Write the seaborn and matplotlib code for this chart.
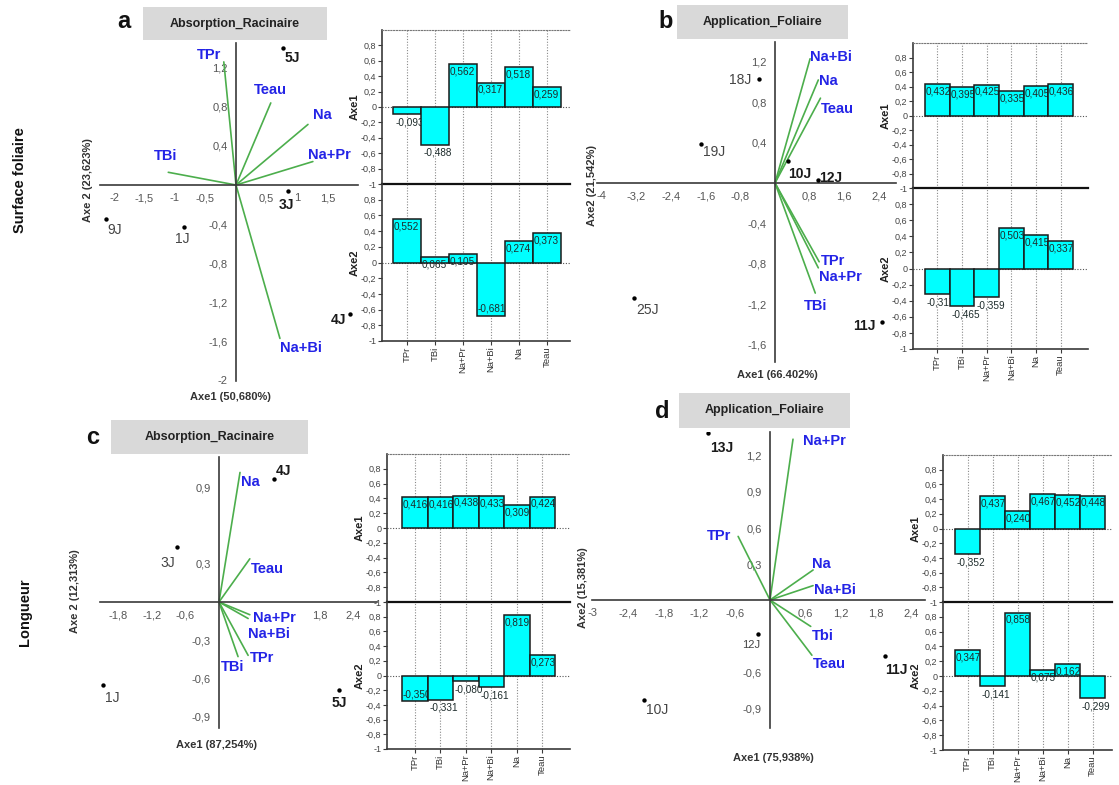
import matplotlib
matplotlib.use("Agg")
import matplotlib.pyplot as plt
from matplotlib.patches import Rectangle
import seaborn as sns

# ---------------------------------------------------------------- data
cats = ["TPr", "TBi", "Na+Pr", "Na+Bi", "Na", "Teau"]

# a : Absorption_Racinaire - Surface foliaire
a_days = ["5J", "3J", "9J", "1J", "4J"]
a_axe1 = [0.77, 0.85, -2.13, -0.85, 1.87]
a_axe2 = [1.40, -0.06, -0.35, -0.43, -1.32]
a_vars = ["TPr", "Teau", "Na", "Na+Pr", "TBi", "Na+Bi"]
a_load1 = [-0.20, 0.57, 1.18, 1.26, -1.11, 0.72]
a_load2 = [1.26, 0.84, 0.62, 0.24, 0.13, -1.57]
a_bar1 = [-0.093, -0.488, 0.562, 0.317, 0.518, 0.259]
a_bar2 = [0.552, 0.065, 0.105, -0.681, 0.274, 0.373]

# b : Application_Foliaire - Surface foliaire
b_days = ["18J", "19J", "10J", "12J", "25J", "11J"]
b_axe1 = [-0.37, -1.70, 0.30, 1.00, -3.26, 2.47]
b_axe2 = [1.03, 0.39, 0.22, 0.03, -1.14, -1.38]
b_vars = ["Na+Bi", "Na", "Teau", "TPr", "Na+Pr", "TBi"]
b_load1 = [0.81, 1.00, 1.05, 1.02, 1.00, 0.93]
b_load2 = [1.23, 1.02, 0.84, -0.78, -0.84, -1.09]
b_bar1 = [0.432, 0.395, 0.425, 0.335, 0.405, 0.436]
b_bar2 = [-0.317, -0.465, -0.359, 0.503, 0.415, 0.337]

# c : Absorption_Racinaire - Longueur
c_days = ["4J", "3J", "1J", "5J"]
c_axe1 = [0.98, -0.75, -2.07, 2.14]
c_axe2 = [0.97, 0.43, -0.65, -0.69]
c_vars = ["Na", "Teau", "Na+Pr", "Na+Bi", "TPr", "TBi"]
c_load1 = [0.375, 0.55, 0.55, 0.52, 0.52, 0.34]
c_load2 = [1.02, 0.34, -0.10, -0.13, -0.42, -0.43]
c_bar1 = [0.416, 0.416, 0.438, 0.433, 0.309, 0.424]
c_bar2 = [-0.350, -0.331, -0.080, -0.161, 0.819, 0.273]

# d : Application_Foliaire - Longueur
d_days = ["13J", "12J", "10J", "11J"]
d_axe1 = [-1.05, -0.20, -2.13, 1.95]
d_axe2 = [1.39, -0.28, -0.83, -0.47]
d_vars = ["Na+Pr", "TPr", "Na", "Na+Bi", "Tbi", "Teau"]
d_load1 = [0.39, -0.54, 0.73, 0.73, 0.69, 0.71]
d_load2 = [1.34, 0.53, 0.25, 0.12, -0.22, -0.46]
d_bar1 = [-0.352, 0.437, 0.240, 0.467, 0.452, 0.448]
d_bar2 = [0.347, -0.141, 0.858, 0.075, 0.162, -0.299]

# ---------------------------------------------------------------- style
sns.set_style("white")
plt.rcParams["font.family"] = ["Liberation Sans", "DejaVu Sans"]

GREEN = "#4cae4c"
BLUE = "#2323e6"
CYAN = "#00ffff"
AXIS = "#3a3a3a"

W, H = 1119, 785
fig = plt.figure(figsize=(W / 100, H / 100), dpi=100)


def frac_rect(l, t, r, b):
    return [l / W, 1 - b / H, (r - l) / W, (b - t) / H]


def comma(v):
    return f"{v:g}".replace(".", ",")


def biplot(origin, scale, xlim, ylim, xticks, yticks, blank_ticks,
           days, s1, s2, day_style, vars_, l1, l2, var_style):
    x0, y0 = origin
    sx, sy = scale
    ax = fig.add_axes(frac_rect(x0 + sx * xlim[0], y0 - sy * ylim[1],
                                x0 + sx * xlim[1], y0 - sy * ylim[0]))
    ax.set_facecolor("none")
    ax.set_xlim(xlim)
    ax.set_ylim(ylim)
    for sp in ("top", "right"):
        ax.spines[sp].set_visible(False)
    for sp in ("left", "bottom"):
        ax.spines[sp].set_position(("data", 0))
        ax.spines[sp].set_color(AXIS)
        ax.spines[sp].set_linewidth(1.2)
    ax.set_xticks(xticks)
    ax.set_xticklabels(["" if v in blank_ticks else comma(v) for v in xticks])
    ax.set_yticks(yticks)
    ax.set_yticklabels(["" if v in blank_ticks else comma(v) for v in yticks])
    ax.tick_params(direction="out", length=4, width=1, color=AXIS,
                   labelsize=8, labelcolor="#555555", pad=2)

    for v1, v2 in zip(l1, l2):
        ax.plot([0, v1], [0, v2], color=GREEN, lw=1.2, zorder=2)
    for name, v1, v2 in zip(vars_, l1, l2):
        dx, dy, ha = var_style[name]
        ax.annotate(name, (v1, v2), xytext=(dx, dy), textcoords="offset pixels",
                    ha=ha, va="center", color=BLUE, fontsize=10.5,
                    fontweight="bold", zorder=4)

    sns.scatterplot(x=s1, y=s2, ax=ax, color="black", s=10, linewidth=0,
                    zorder=3, legend=False)
    for name, v1, v2 in zip(days, s1, s2):
        dx, dy, ha, weight, size = day_style[name]
        ax.annotate(name, (v1, v2), xytext=(dx, dy), textcoords="offset pixels",
                    ha=ha, va="center", color="#1a1a1a" if weight == "bold" else "#444444",
                    fontsize=size, fontweight=weight, zorder=4)
    return ax


def loading_bars(l, t, mid, b, r, bar_l, bar_r, v1, v2, inside1=(), inside2=()):
    unit = (bar_r - bar_l) / 6
    xl = (-0.5 - (bar_l - l) / unit, 5.5 + (r - bar_r) / unit)
    top = fig.add_axes(frac_rect(l, t, r, mid))
    bot = fig.add_axes(frac_rect(l, mid, r, b))
    yt = [-1, -0.8, -0.6, -0.4, -0.2, 0, 0.2, 0.4, 0.6, 0.8]
    for ax, vals, name, inside in ((top, v1, "Axe1", inside1),
                                   (bot, v2, "Axe2", inside2)):
        ax.set_facecolor("none")
        sns.barplot(x=cats, y=vals, ax=ax, color=CYAN, saturation=1,
                    edgecolor="#1a1a1a", linewidth=1.1, width=1.0,
                    errorbar=None)
        ax.set_xlim(xl)
        ax.set_ylim(-1, 1)
        ax.set_axisbelow(True)
        ax.grid(True, axis="x", ls=(0, (1, 1.5)), color="#8a8a8a", lw=0.8)
        ax.grid(False, axis="y")
        ax.axhline(0, ls=(0, (1, 1.5)), color="#555555", lw=0.8, zorder=1)
        ax.set_yticks(yt)
        ax.set_yticklabels([comma(v) for v in yt])
        ax.tick_params(axis="y", direction="out", length=3, width=0.8,
                       color=AXIS, labelsize=6.5, labelcolor="#444444", pad=1, left=True)
        ax.set_ylabel(name, fontsize=8, fontweight="bold", labelpad=1, color="#222222")
        ax.set_xlabel("")
        ax.spines["right"].set_visible(False)
        ax.spines["left"].set_color(AXIS)
        ax.spines["left"].set_linewidth(1.2)
        # each bar hides the overflowing label of the previous one
        for i, (p, v) in enumerate(zip(ax.patches, vals)):
            p.set_zorder(3 + 2 * i)
            txt = f"{v:.3f}".replace(".", ",")
            if v >= 0:
                x, y, va = i - 0.47, v - 0.03, "top"
            elif i in inside:
                x, y, va = i - 0.49, v + 0.03, "bottom"
            else:
                x, y, va = i - 0.42, v - 0.04, "top"
            ax.text(x, y, txt, ha="left", va=va, fontsize=7.2,
                    color="#1d2b2b", zorder=4 + 2 * i)
    top.spines["top"].set_linestyle((0, (1, 1.5)))
    top.spines["top"].set_color("#777777")
    top.spines["bottom"].set_color("#111111")
    top.spines["bottom"].set_linewidth(1.6)
    top.tick_params(axis="x", length=0, labelbottom=False)
    bot.spines["top"].set_visible(False)
    bot.spines["bottom"].set_color(AXIS)
    bot.spines["bottom"].set_linewidth(1.2)
    bot.tick_params(axis="x", length=3, width=0.8, color=AXIS, bottom=True,
                    labelsize=6.8, labelcolor="#333333", pad=1)
    for lab in bot.get_xticklabels():
        lab.set_rotation(90)
    return top, bot


def header(letter, lx, ly, text, l, t, r, b):
    fig.add_artist(Rectangle((l / W, 1 - b / H), (r - l) / W, (b - t) / H,
                             transform=fig.transFigure, facecolor="#d9d9d9",
                             edgecolor="none"))
    fig.text((l + r) / 2 / W, 1 - (t + b) / 2 / H, text, ha="center",
             va="center", fontsize=9, fontweight="bold", color="#222222")
    fig.text(lx / W, 1 - ly / H, letter, ha="center", va="center",
             fontsize=17, fontweight="bold", color="#111111")


def axis_titles(xtxt, xx, xy, ytxt, yx, yy):
    fig.text(xx / W, 1 - xy / H, xtxt, ha="center", va="center",
             fontsize=8, fontweight="bold", color="#333333")
    fig.text(yx / W, 1 - yy / H, ytxt, ha="center", va="center", rotation=90,
             fontsize=8, fontweight="bold", color="#333333")


# ---------------------------------------------------------------- panel a
biplot((236, 185), (61, 97.7), (-2.23, 2.0), (-2.01, 1.45),
       [-2, -1.5, -1, -0.5, 0.5, 1, 1.5],
       [-2, -1.6, -1.2, -0.8, -0.4, 0.4, 0.8, 1.2], [],
       a_days, a_axe1, a_axe2,
       {"5J": (2, -10, "left", "bold", 10), "3J": (-9, -14, "left", "bold", 10),
        "9J": (1, -11, "left", "normal", 10), "1J": (-9, -12, "left", "normal", 10),
        "4J": (-4, -6, "right", "bold", 10)},
       a_vars, a_load1, a_load2,
       {"TPr": (-3, 7, "right"), "Teau": (0, 13, "center"), "Na": (5, 9, "left"),
        "Na+Pr": (-5, 7, "left"), "TBi": (-3, 16, "center"),
        "Na+Bi": (0, -10, "left")})
loading_bars(382, 30, 184, 341, 570, 393, 561, a_bar1, a_bar2, inside2=(3,))
header("a", 124, 22, "Absorption_Racinaire", 143, 7, 327, 40)
axis_titles("Axe1 (50,680%)", 230, 397, "Axe 2 (23,623%)", 88, 180)

# ---------------------------------------------------------------- panel b
biplot((775, 183), (43.3, 101), (-4.1, 2.8), (-1.77, 1.40),
       [-4, -3.2, -2.4, -1.6, -0.8, 0.8, 1.6, 2.4],
       [-1.6, -1.2, -0.8, -0.4, 0.4, 0.8, 1.2], [],
       b_days, b_axe1, b_axe2,
       {"18J": (-8, -1, "right", "normal", 10), "19J": (2, -8, "left", "normal", 10),
        "10J": (0, -13, "left", "bold", 10), "12J": (1, 2, "left", "bold", 10),
        "25J": (2, -12, "left", "normal", 10), "11J": (-6, -4, "right", "bold", 10)},
       b_vars, b_load1, b_load2,
       {"Na+Bi": (0, 2, "left"), "Na": (1, -1, "left"), "Teau": (0, -11, "left"),
        "TPr": (2, 1, "left"), "Na+Pr": (1, -9, "left"), "TBi": (0, -13, "center")})
loading_bars(913, 43, 188, 349, 1088, 925, 1073, b_bar1, b_bar2)
header("b", 666, 22, "Application_Foliaire", 677, 5, 848, 39)
axis_titles("Axe1 (66.402%)", 777, 375, "Axe2 (21,542%)", 592, 185)

# ---------------------------------------------------------------- panel c
biplot((219, 602), (56, 127), (-2.12, 2.82), (-0.99, 1.14),
       [-1.8, -1.2, -0.6, 0.6, 1.2, 1.8, 2.4],
       [-0.9, -0.6, -0.3, 0.3, 0.6, 0.9], [0.6, 1.2],
       c_days, c_axe1, c_axe2,
       {"4J": (2, 8, "left", "bold", 10), "3J": (-2, -16, "right", "normal", 10),
        "1J": (2, -13, "left", "normal", 10), "5J": (-7, -13, "left", "bold", 10)},
       c_vars, c_load1, c_load2,
       {"Na": (1, -10, "left"), "Teau": (1, -10, "left"), "Na+Pr": (3, -3, "left"),
        "Na+Bi": (0, -15, "left"), "TPr": (2, -3, "left"), "TBi": (-5, -10, "center")})
loading_bars(387, 454, 602, 749, 570, 402, 555, c_bar1, c_bar2, inside2=(0,))
header("c", 93, 438, "Absorption_Racinaire", 111, 420, 308, 454)
axis_titles("Axe1 (87,254%)", 217, 745, "Axe 2 (12,313%)", 75, 591)

# ---------------------------------------------------------------- panel d
biplot((770, 600), (59, 120), (-3.02, 2.63), (-1.07, 1.40),
       [-3, -2.4, -1.8, -1.2, -0.6, 0.6, 1.2, 1.8, 2.4],
       [-0.9, -0.6, -0.3, 0.3, 0.6, 0.9, 1.2], [-0.3],
       d_days, d_axe1, d_axe2,
       {"13J": (2, -15, "left", "bold", 10), "12J": (2, -11, "right", "normal", 8),
        "10J": (2, -10, "left", "normal", 10), "11J": (0, -14, "left", "bold", 10)},
       d_vars, d_load1, d_load2,
       {"Na+Pr": (10, -2, "left"), "TPr": (-7, 0, "right"), "Na": (-1, 6, "left"),
        "Na+Bi": (1, -4, "left"), "Tbi": (1, -10, "left"), "Teau": (1, -9, "left")})
loading_bars(943, 455, 602, 750, 1112, 955, 1105, d_bar1, d_bar2)
header("d", 662, 411, "Application_Foliaire", 679, 393, 850, 428)
axis_titles("Axe1 (75,938%)", 773, 758, "Axe2 (15,381%)", 583, 588)

# ---------------------------------------------------------------- row labels
fig.text(20 / W, 1 - 180 / H, "Surface foliaire", rotation=90, ha="center",
         va="center", fontsize=10.5, fontweight="bold", color="#111111")
fig.text(25 / W, 1 - 612 / H, "Longueur", rotation=90, ha="center",
         va="center", fontsize=10.5, fontweight="bold", color="#111111")

fig.savefig("out.png", dpi=100)
